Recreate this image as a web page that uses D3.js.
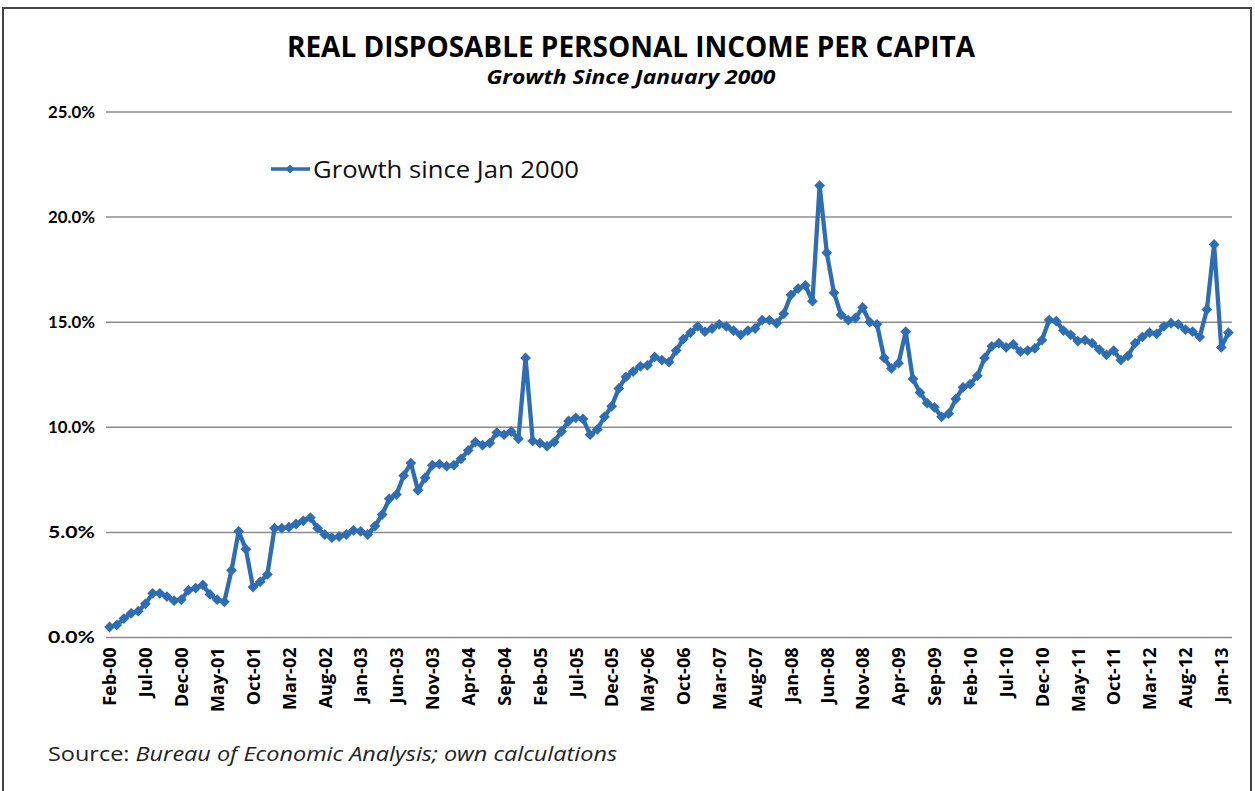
<!DOCTYPE html>
<html>
<head>
<meta charset="utf-8">
<script src="https://cdn.jsdelivr.net/npm/d3@7"></script>
<style>
body { margin: 0; background: #fff; }
text { font-family: "Open Sans", Lato, sans-serif; }
</style>
</head>
<body>
<svg width="1255" height="791"></svg>
<script>
var WIDTH = 1255;
var HEIGHT = 791;

// monthly growth since Jan 2000, Feb-00 .. Feb-13 (%)
var growth = [
  0.5, 0.6, 0.9, 1.15, 1.25, 1.6, 2.1, 2.1, 1.95, 1.75,
  1.8, 2.25, 2.35, 2.5, 2.05, 1.8, 1.7, 3.2, 5.05, 4.2,
  2.4, 2.65, 3.0, 5.2, 5.2, 5.25, 5.4, 5.55, 5.7, 5.2,
  4.9, 4.75, 4.8, 4.9, 5.1, 5.05, 4.9, 5.3, 5.85, 6.6,
  6.8, 7.7, 8.3, 7.0, 7.6, 8.2, 8.25, 8.15, 8.2, 8.5,
  8.9, 9.3, 9.15, 9.25, 9.75, 9.65, 9.8, 9.45, 13.3, 9.35,
  9.25, 9.1, 9.3, 9.8, 10.3, 10.45, 10.4, 9.65, 9.9, 10.5,
  11.0, 11.85, 12.4, 12.65, 12.9, 12.95, 13.35, 13.2, 13.1, 13.65,
  14.2, 14.5, 14.8, 14.55, 14.7, 14.9, 14.8, 14.6, 14.4, 14.6,
  14.7, 15.1, 15.1, 14.95, 15.4, 16.3, 16.6, 16.75, 16.0, 21.5,
  18.3, 16.4, 15.35, 15.1, 15.2, 15.7, 15.0, 14.9, 13.3, 12.8,
  13.05, 14.55, 12.3, 11.65, 11.15, 10.95, 10.5, 10.65, 11.35, 11.9,
  12.05, 12.45, 13.3, 13.85, 14.0, 13.8, 13.95, 13.6, 13.65, 13.75,
  14.15, 15.1, 15.05, 14.6, 14.4, 14.1, 14.15, 14.0, 13.7, 13.45,
  13.65, 13.2, 13.4, 14.0, 14.3, 14.5, 14.45, 14.8, 14.95, 14.9,
  14.65, 14.55, 14.3, 15.6, 18.7, 13.8, 14.5
];

var xTickLabels = ["Feb-00", "Jul-00", "Dec-00", "May-01", "Oct-01", "Mar-02", "Aug-02", "Jan-03",
  "Jun-03", "Nov-03", "Apr-04", "Sep-04", "Feb-05", "Jul-05", "Dec-05", "May-06", "Oct-06",
  "Mar-07", "Aug-07", "Jan-08", "Jun-08", "Nov-08", "Apr-09", "Sep-09", "Feb-10", "Jul-10",
  "Dec-10", "May-11", "Oct-11", "Mar-12", "Aug-12", "Jan-13"];
var yTicks = [0, 5, 10, 15, 20, 25];
var seriesName = "Growth since Jan 2000";

var BLUE = "#2f6db3";

// categories: one per month starting Feb 2000
var fmt = d3.timeFormat("%b-%y");
var months = d3.timeMonth.range(new Date(2000, 1, 1), new Date(2000, 1 + growth.length, 1)).map(fmt);

var svg = d3.select("svg");

// outer frame
svg.append("rect")
  .attr("x", 3).attr("y", 8)
  .attr("width", 1248).attr("height", 790)
  .attr("fill", "none")
  .attr("stroke", "#444")
  .attr("stroke-width", 2);

var x = d3.scalePoint()
  .domain(months)
  .range([106, 1232])
  .padding(0.5);

var y = d3.scaleLinear()
  .domain([0, 25])
  .range([637.5, 112]);

// gridlines
svg.append("g")
  .selectAll("line")
  .data(yTicks)
  .join("line")
  .attr("x1", 106).attr("x2", 1232)
  .attr("y1", function (d) { return y(d); })
  .attr("y2", function (d) { return y(d); })
  .attr("stroke", "#8c8c8c")
  .attr("stroke-width", 1.5);

// y axis
var yAxis = svg.append("g")
  .attr("transform", "translate(106,0)")
  .call(d3.axisLeft(y).tickValues(yTicks).tickSize(0).tickPadding(11)
    .tickFormat(function (d) { return d.toFixed(1) + "%"; }));
yAxis.select(".domain").remove();
yAxis.selectAll("text")
  .attr("textLength", 47)
  .attr("lengthAdjust", "spacingAndGlyphs")
  .style("font-family", "Lato, sans-serif")
  .style("font-size", "17px")
  .style("font-weight", "bold")
  .attr("fill", "#000");

// x axis
var xAxis = svg.append("g")
  .attr("transform", "translate(0,637.5)")
  .call(d3.axisBottom(x).tickValues(xTickLabels).tickSize(0));
xAxis.select(".domain").remove();
xAxis.selectAll("text")
  .attr("transform", "rotate(-90)")
  .attr("text-anchor", "end")
  .attr("x", -10)
  .attr("y", 0)
  .attr("dy", "0.35em")
  .style("font-size", "18px")
  .style("font-weight", "bold")
  .attr("fill", "#000");

// series line
var line = d3.line()
  .x(function (d, i) { return x(months[i]); })
  .y(function (d) { return y(d); });

svg.append("path")
  .datum(growth)
  .attr("d", line)
  .attr("fill", "none")
  .attr("stroke", BLUE)
  .attr("stroke-width", 4.3)
  .attr("stroke-linejoin", "round");

var diamond = d3.symbol().type(d3.symbolSquare).size(58);

svg.append("g")
  .selectAll("path")
  .data(growth)
  .join("path")
  .attr("d", diamond)
  .attr("transform", function (d, i) {
    return "translate(" + x(months[i]) + "," + y(d) + ") rotate(45)";
  })
  .attr("fill", BLUE);

// legend
svg.append("line")
  .attr("x1", 271).attr("x2", 310)
  .attr("y1", 169).attr("y2", 169)
  .attr("stroke", BLUE)
  .attr("stroke-width", 3.5);
svg.append("path")
  .attr("d", d3.symbol().type(d3.symbolSquare).size(40))
  .attr("transform", "translate(290,169) rotate(45)")
  .attr("fill", BLUE);
svg.append("text")
  .attr("x", 313).attr("y", 178)
  .attr("textLength", 266)
  .attr("lengthAdjust", "spacingAndGlyphs")
  .style("font-size", "24px")
  .attr("fill", "#111")
  .text(seriesName);

// titles
svg.append("text")
  .attr("x", 631).attr("y", 57)
  .attr("text-anchor", "middle")
  .attr("textLength", 688)
  .attr("lengthAdjust", "spacingAndGlyphs")
  .style("font-size", "28px")
  .style("font-weight", "bold")
  .attr("fill", "#000")
  .text("REAL DISPOSABLE PERSONAL INCOME PER CAPITA");

svg.append("text")
  .attr("x", 631).attr("y", 84)
  .attr("text-anchor", "middle")
  .attr("textLength", 289)
  .attr("lengthAdjust", "spacingAndGlyphs")
  .style("font-size", "19px")
  .style("font-weight", "bold")
  .style("font-style", "italic")
  .attr("fill", "#000")
  .text("Growth Since January 2000");

// source note
var src = svg.append("text")
  .attr("x", 48).attr("y", 761)
  .attr("textLength", 569)
  .attr("lengthAdjust", "spacingAndGlyphs")
  .style("font-size", "20px")
  .attr("fill", "#222");
src.append("tspan").text("Source: ");
src.append("tspan").style("font-style", "italic").text("Bureau of Economic Analysis; own calculations");
</script>
</body>
</html>
